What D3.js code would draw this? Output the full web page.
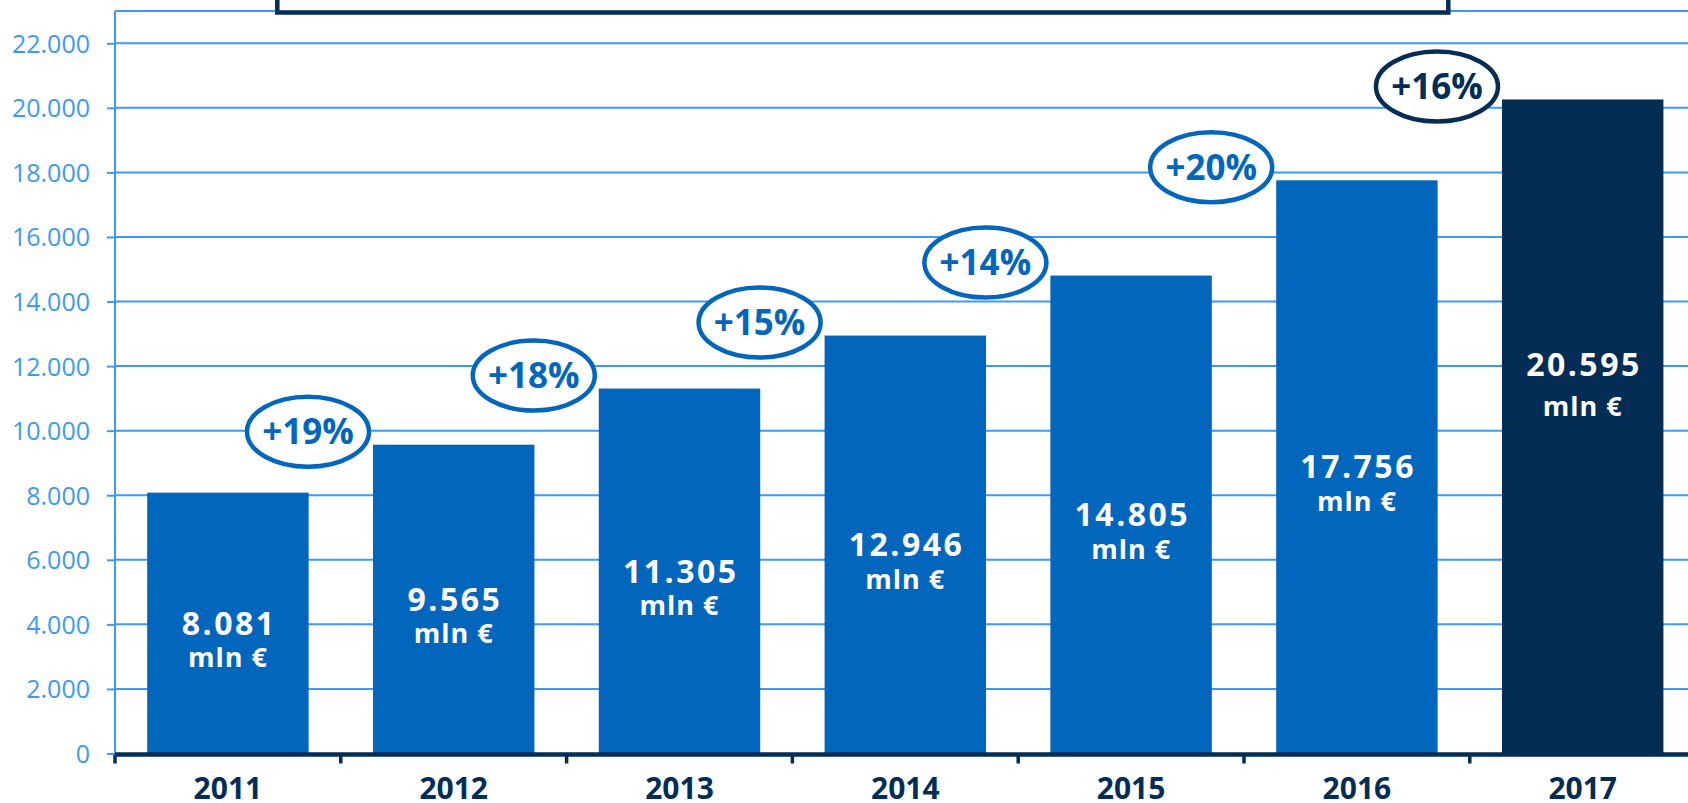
<!DOCTYPE html>
<html>
<head>
<meta charset="utf-8">
<script src="https://cdn.jsdelivr.net/npm/d3@7"></script>
<style>
  html, body { margin: 0; padding: 0; background: #fff; overflow: hidden; }
  svg { display: block; font-family: "Open Sans", "Noto Sans", sans-serif; }
</style>
</head>
<body>
<div id="chart"></div>
<script>
// data
var years = ["2011", "2012", "2013", "2014", "2015", "2016", "2017"];
var values = [8081, 9565, 11305, 12946, 14805, 17756, 20260];
var valueLabels = ["8.081", "9.565", "11.305", "12.946", "14.805", "17.756", "20.595"];
var growth = [null, "+19%", "+18%", "+15%", "+14%", "+20%", "+16%"];
var yTicks = [0, 2000, 4000, 6000, 8000, 10000, 12000, 14000, 16000, 18000, 20000, 22000];
var unitLabel = "mln €";

var width = 1688, height = 803;
var blue = "#0366bd", navy = "#032d55", light = "#3d9af2";

var svg = d3.select("#chart").append("svg")
    .attr("width", width)
    .attr("height", height);

var left = 115, step = 225.8;
var x = d3.scaleBand()
    .domain(years)
    .range([left, left + step * years.length])
    .paddingInner(0.285)
    .paddingOuter(0.1425);

var y = d3.scaleLinear()
    .domain([0, 23000])
    .range([753.5, 11]);

var fmt = d3.formatLocale({decimal: ",", thousands: ".", grouping: [3], currency: ["", "€"]}).format(",");

// gridlines
svg.append("g").selectAll("line")
    .data(yTicks.slice(1))
    .join("line")
    .attr("x1", left)
    .attr("x2", width)
    .attr("y1", d => y(d))
    .attr("y2", d => y(d))
    .attr("stroke", light)
    .attr("stroke-width", 2);

// top border of plot area
svg.append("line")
    .attr("x1", left).attr("x2", width)
    .attr("y1", y(23000)).attr("y2", y(23000))
    .attr("stroke", light).attr("stroke-width", 2);

// y axis
var yAxis = svg.append("g")
    .attr("transform", `translate(${left},0)`)
    .call(d3.axisLeft(y).tickValues(yTicks).tickFormat(fmt).tickSize(8).tickPadding(17));
yAxis.select(".domain").remove();
yAxis.append("line")
    .attr("x1", 0).attr("x2", 0)
    .attr("y1", y(23000)).attr("y2", y(0))
    .attr("stroke", light).attr("stroke-width", 2);
yAxis.selectAll(".tick line").attr("stroke", light).attr("stroke-width", 2);
yAxis.selectAll(".tick text")
    .attr("fill", light)
    .attr("font-size", 25)
    .attr("font-family", "'Open Sans', sans-serif")
    .attr("dy", "0.36em");

// bars
svg.append("g").selectAll("rect")
    .data(years)
    .join("rect")
    .attr("x", d => x(d))
    .attr("width", x.bandwidth())
    .attr("y", (d, i) => y(values[i]))
    .attr("height", (d, i) => y(0) - y(values[i]))
    .attr("fill", (d, i) => i === years.length - 1 ? navy : blue);

// value labels inside bars
var lab = svg.append("g").selectAll("g")
    .data(years)
    .join("g")
    .attr("transform", (d, i) => {
        var share = i === years.length - 1 ? 0.595 : 0.5;
        return `translate(${x(d) + x.bandwidth() / 2},${y(values[i] * share)})`;
    });
lab.append("text")
    .attr("text-anchor", "middle")
    .attr("y", 11.5)
    .attr("fill", "#fff")
    .attr("font-size", 32)
    .attr("font-weight", "bold")
    .attr("letter-spacing", 2.5)
    .attr("dx", 1.25)
    .text((d, i) => valueLabels[i]);
lab.append("text")
    .attr("text-anchor", "middle")
    .attr("y", (d, i) => i === years.length - 1 ? 52 : 44)
    .attr("fill", "#fff")
    .attr("font-size", 27)
    .attr("font-weight", "bold")
    .attr("letter-spacing", 1)
    .text(unitLabel);

// x axis
var xAxis = svg.append("g")
    .attr("transform", `translate(0,${y(0)})`)
    .call(d3.axisBottom(x).tickSize(0).tickPadding(0));
xAxis.select(".domain").remove();
xAxis.append("line")
    .attr("x1", left).attr("x2", width)
    .attr("y1", 1).attr("y2", 1)
    .attr("stroke", navy).attr("stroke-width", 4.5);
xAxis.selectAll(".tick text")
    .attr("fill", navy)
    .attr("font-size", 30)
    .attr("font-weight", "bold")
    .attr("font-family", "'Open Sans', sans-serif")
    .attr("dy", null)
    .attr("y", 45.5);
xAxis.selectAll(".boundary")
    .data(years)
    .join("line")
    .attr("class", "boundary")
    .attr("x1", d => x(d) - x.step() * x.paddingInner() / 2)
    .attr("x2", d => x(d) - x.step() * x.paddingInner() / 2)
    .attr("y1", 1)
    .attr("y2", 10)
    .attr("stroke", navy)
    .attr("stroke-width", 3.5);

// growth badges
var badge = svg.append("g").selectAll("g")
    .data(years.filter((d, i) => growth[i]))
    .join("g")
    .attr("transform", d => {
        var i = years.indexOf(d);
        return `translate(${x(d) - 65},${y(values[i]) - 13})`;
    });
badge.append("ellipse")
    .attr("rx", 61)
    .attr("ry", 35)
    .attr("fill", "#fff")
    .attr("stroke", d => d === years[years.length - 1] ? navy : blue)
    .attr("stroke-width", 4.5);
badge.append("text")
    .attr("text-anchor", "middle")
    .attr("y", 12.5)
    .attr("fill", d => d === years[years.length - 1] ? navy : blue)
    .attr("font-size", 35)
    .attr("font-weight", "bold")
    .text(d => growth[years.indexOf(d)]);

// framed box at the top (cut off by the picture edge)
svg.append("rect")
    .attr("x", 277.3)
    .attr("y", -40)
    .attr("width", 1171)
    .attr("height", 52.5)
    .attr("fill", "#fff")
    .attr("stroke", navy)
    .attr("stroke-width", 4.5);
</script>
</body>
</html>
